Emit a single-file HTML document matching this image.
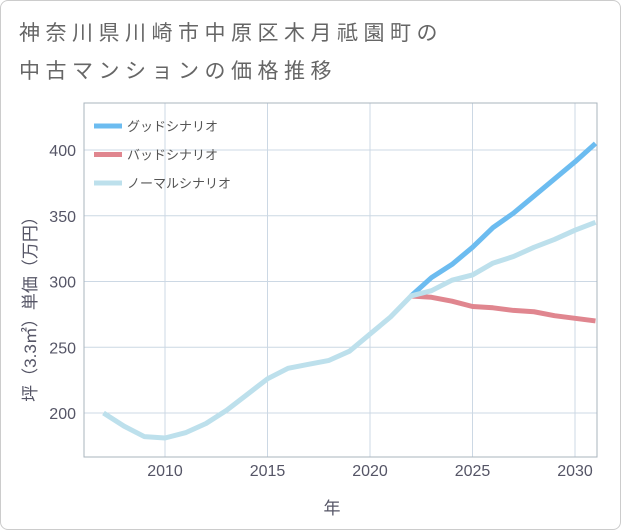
<!DOCTYPE html>
<html><head><meta charset="utf-8"><style>
body{margin:0;background:#fff;font-family:"Liberation Sans","Noto Sans CJK JP",sans-serif;}
#wrap{position:relative;width:619px;height:528px;border:1px solid #ccc;border-radius:8px;overflow:hidden;background:#fff}
.title{position:absolute;left:18px;font-size:21px;color:#666;letter-spacing:5.5px;white-space:nowrap}
</style></head><body>
<div id="wrap">
<div class="title" style="top:16px">神奈川県川崎市中原区木月祗園町の</div>
<div class="title" style="top:54px">中古マンションの価格推移</div>
<svg id="chart" width="621" height="530" style="position:absolute;left:-1px;top:-1px"></svg>
</div>
<script>
const years=[2007,2008,2009,2010,2011,2012,2013,2014,2015,2016,2017,2018,2019,2020,2021,2022,2023,2024,2025,2026,2027,2028,2029,2030,2031];
const normal=[200,190,182,181,185,192,202,214,226,234,237,240,247,260,273,289,293,301,305,314,319,326,332,339,345];
const forecastYears=[2022,2023,2024,2025,2026,2027,2028,2029,2030,2031];
const good=[289,303,313,326,341,352,365,378,391,405];
const bad=[289,288,285,281,280,278,277,274,272,270];
const xTicks=[2010,2015,2020,2025,2030];
const yTicks=[200,250,300,350,400];
const legendLabels=["グッドシナリオ","バッドシナリオ","ノーマルシナリオ"];
const L=84,R=597,T=103,B=457;
const xs=y=>165+(y-2010)*20.5;
const ys=v=>413-(v-200)*1.315;
const svg=document.getElementById('chart');
const NS='http://www.w3.org/2000/svg';
function mk(t,a){const e=document.createElementNS(NS,t);for(const k in a)e.setAttribute(k,a[k]);svg.appendChild(e);return e;}
yTicks.forEach(v=>{const g=mk('line',{x1:L,x2:R,y1:ys(v),y2:ys(v),stroke:'#ccd8e4','stroke-width':1});

const t=mk('text',{x:76,y:ys(v)+6,'text-anchor':'end','font-size':16,fill:'#556'});t.textContent=v;
});
xTicks.forEach(y=>{const g=mk('line',{x1:xs(y),x2:xs(y),y1:T,y2:B,stroke:'#ccd8e4','stroke-width':1});

const t=mk('text',{x:xs(y),y:476,'text-anchor':'middle','font-size':16,fill:'#556'});t.textContent=y;
});
const fr=mk('rect',{x:L,y:T,width:R-L,height:B-T,fill:'none',stroke:'#aab4be','stroke-width':1});

function line(xv,yv,color,name){const p=mk('polyline',{points:xv.map((x,i)=>xs(x)+','+ys(yv[i])).join(' '),fill:'none',stroke:color,'stroke-width':5,'stroke-linejoin':'round'});
}
line(forecastYears,bad,'#e0868f','bad-scenario-line');
line(forecastYears,good,'#6cbcf0','good-scenario-line');
line(years,normal,'#bde0ec','normal-scenario-line');
const cols=['#6cbcf0','#e0868f','#bde0ec'];
legendLabels.forEach((s,i)=>{const y=126+i*28.5;
const l=mk('line',{x1:94,x2:122,y1:y,y2:y,stroke:cols[i],'stroke-width':5});

const t=mk('text',{x:127,y:y+5,'font-size':13,fill:'#555'});t.textContent=s;
});
const xt=mk('text',{x:332,y:514,'text-anchor':'middle','font-size':17,fill:'#556'});xt.textContent='年';

const yt=mk('text',{x:0,y:0,'text-anchor':'middle','font-size':17,fill:'#556',transform:'translate(36,305) rotate(-90)'});yt.textContent='坪（3.3㎡）単価（万円）';

</script>
</body></html>
